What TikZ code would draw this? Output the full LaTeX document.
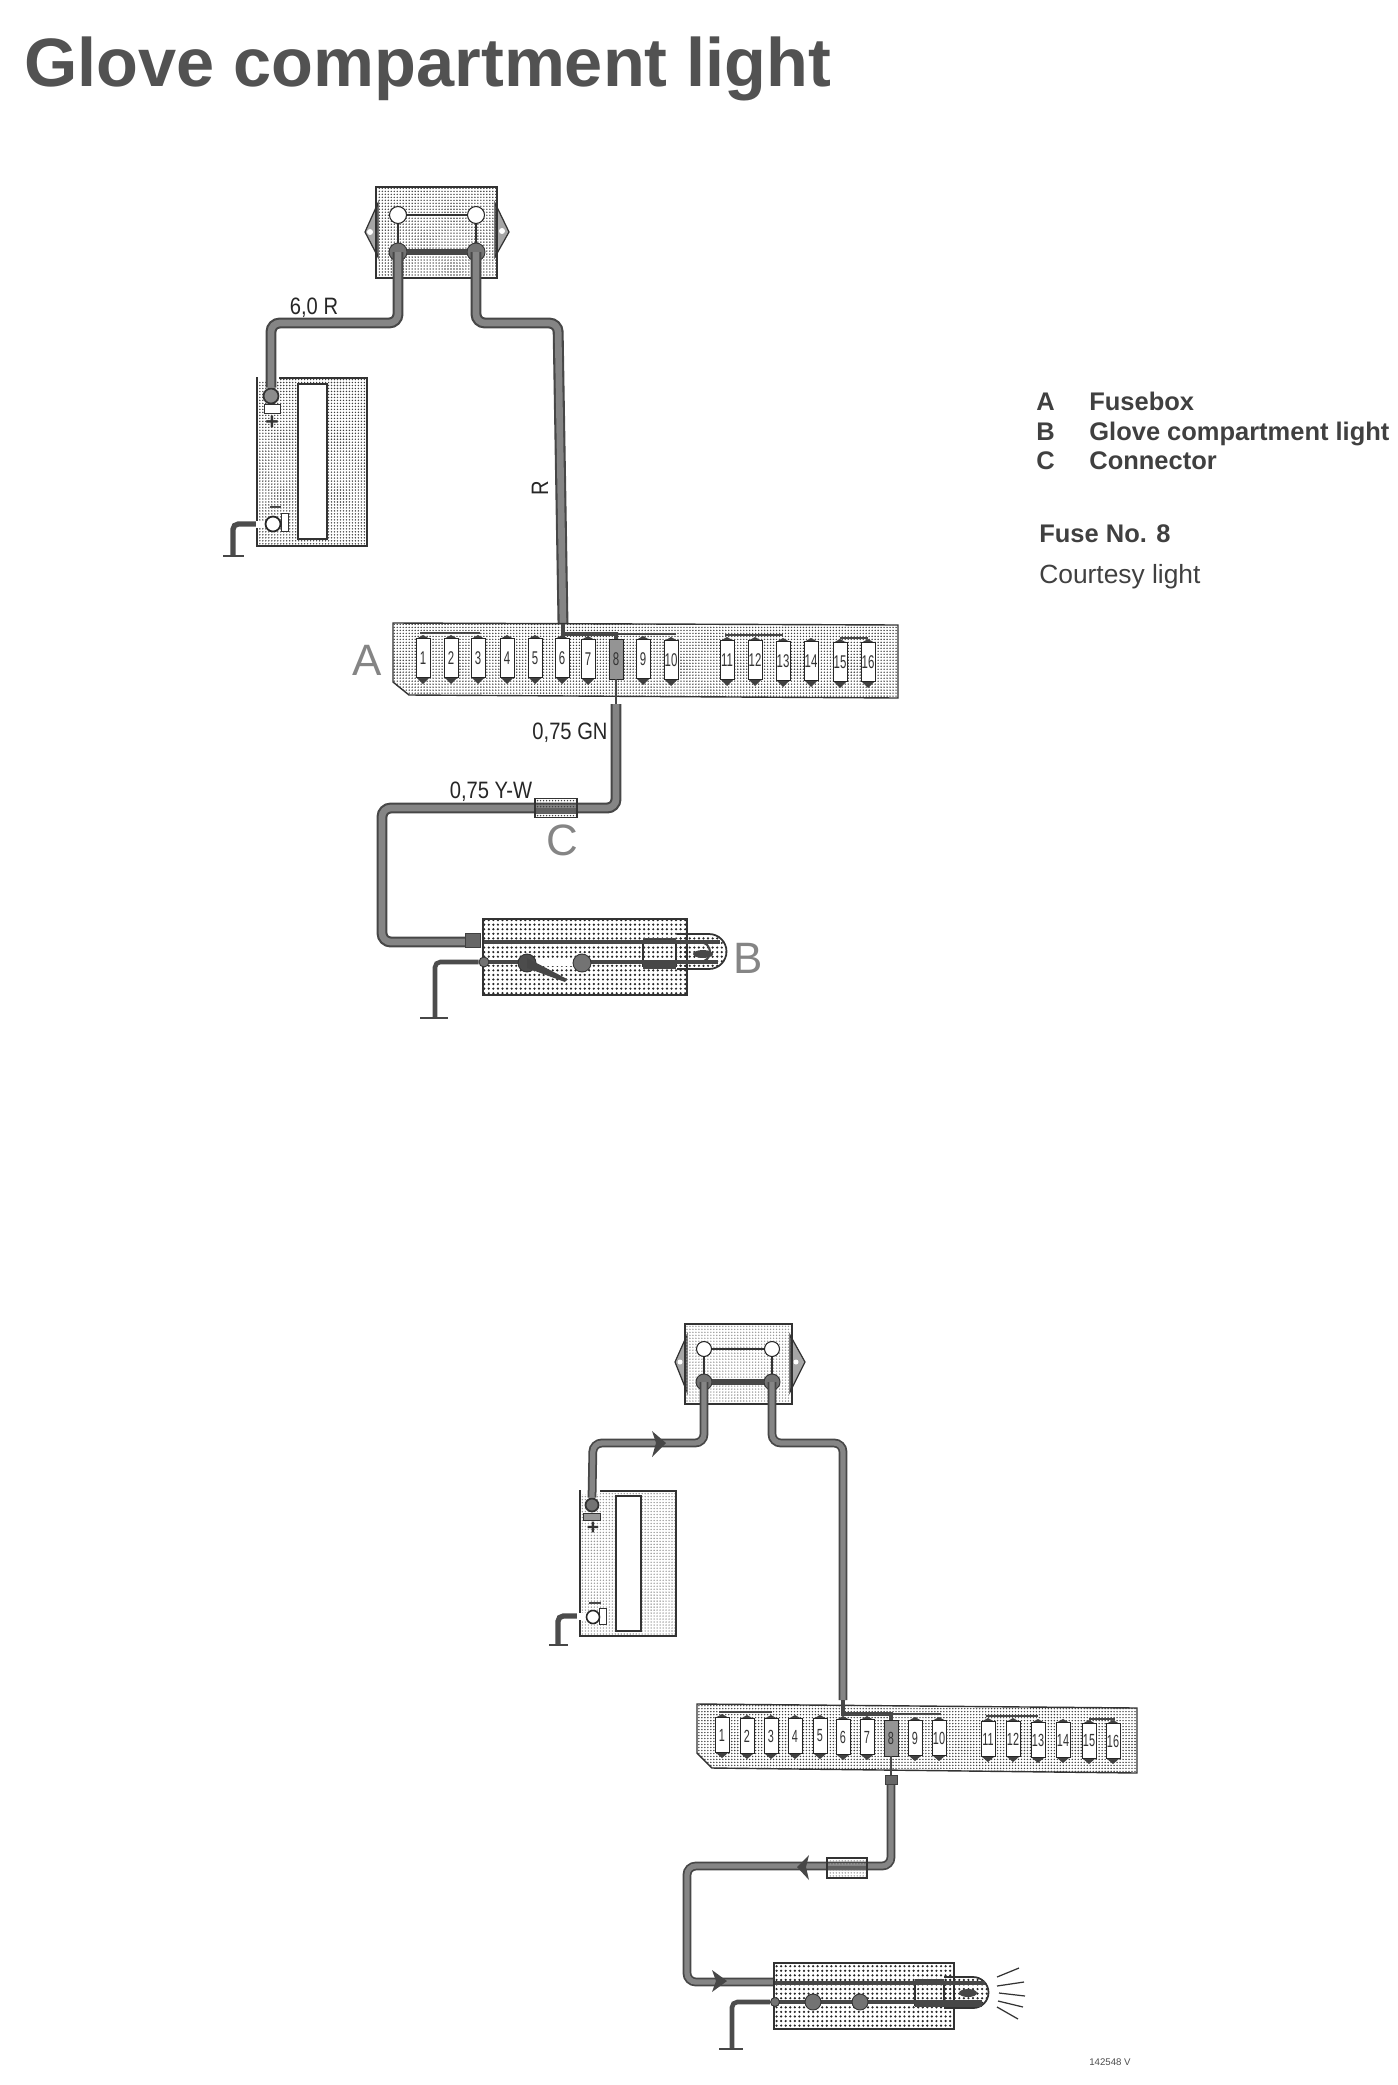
\documentclass[tikz,border=0pt]{standalone}
\usepackage{fontspec}
\setmainfont{Liberation Sans}
\newfontfamily\dinfont[FakeStretch=0.85]{Liberation Sans}
\newfontfamily\fusefont[FakeStretch=0.62]{Liberation Sans}
\usetikzlibrary{patterns.meta}

\tikzset{
 panel/.style={draw=black!80,line width=.8pt,inner sep=0pt,pattern={Dots[distance=1.7pt,radius=.45pt]},pattern color=black!75},
 palepanel/.style={panel,pattern color=black!40},
 lampbox/.style={panel,pattern={Dots[distance=2.6pt,radius=.7pt]},pattern color=black!85},
 window/.style={draw=black!80,line width=.8pt,fill=white,inner sep=0pt},
 fuse/.style={draw=black!85,line width=.5pt,fill=white,inner sep=0pt,minimum width=.28cm,text=black!80},
 lug/.style={circle,draw=black!85,line width=.6pt,fill=white,inner sep=0pt,minimum size=.34cm},
 stud/.style={circle,draw=black!80,line width=.5pt,fill=black!55,inner sep=0pt,minimum size=.36cm},
 wire/.style={draw=black!72,double=black!48,line width=1.2pt,double distance=3.8pt,rounded corners=5pt},
 thinwire/.style={wire,line width=1pt,double distance=3pt},
 lead/.style={draw=black!72,line width=1.6pt},
 hair/.style={draw=black!80,line width=.7pt},
 earth/.style={draw=black!70,line width=3pt,rounded corners=3pt},
 partletter/.style={font=\fontsize{25}{25}\selectfont,text=black!48},
 wirelabel/.style={font=\dinfont\fontsize{13.5}{13.5}\selectfont,text=black!85},
 legend/.style={anchor=base west,inner sep=0pt,text=black!75,font=\bfseries\fontsize{14.5}{14.5}\selectfont},
}

\begin{document}
\begin{tikzpicture}[x=.02cm, y=-.02cm]
\useasboundingbox (0,0) rectangle (1397,2085);

\node[anchor=base west,inner sep=0pt,text=black!68,font=\bfseries\fontsize{39}{39}\selectfont] (title) at (24,87) {Glove compartment light};

\node[legend] (keyA) at (1036,410) {A};
\node[legend] (keyB) at (1036,440) {B};
\node[legend] (keyC) at (1036,469) {C};
\node[legend] (nameA) at (1089,410) {Fusebox};
\node[legend] (nameB) at (1089,440) {Glove compartment light};
\node[legend] (nameC) at (1089,469) {Connector};
\node[legend] (fuseno) at (1039,542) {Fuse No. 8};
\node[legend,font=\fontsize{15}{15}\selectfont] (courtesy) at (1039,583) {Courtesy light};

% upper circuit
\draw[hair,fill=black!35] (378,203)--(365,232)--(378,257)--cycle;
\draw[hair,fill=black!35] (495,203)--(509,232)--(495,257)--cycle;
\fill[white] (370,232) circle (3) (502,231) circle (3);
\node[panel,minimum width=2.42cm,minimum height=1.82cm] (relay) at (436.5,232.5) {};
\node[lug] (relayTL) at (398,215) {};
\node[lug] (relayTR) at (476,215) {};
\node[stud] (relayBL) at (398,252) {};
\node[stud] (relayBR) at (476,252) {};
\draw[hair] (relayTL)--(relayTR);
\draw[hair] (relayTL)--(relayBL);
\draw[hair] (relayTR)--(relayBR);
\draw[lead,line width=3.4pt] (relayBL)--(relayBR);

\node[panel,minimum width=2.2cm,minimum height=3.36cm] (battery) at (312,462) {};
\node[window,minimum width=.58cm,minimum height=3.1cm] (cell) at (312.5,461.5) {};
\fill[white] (258,376) rectangle (279,381);
\node[draw=black!80,fill=white,inner sep=0pt,minimum width=.32cm,minimum height=.18cm] (posnut) at (272,409) {};
\node[circle,draw=black!80,line width=1pt,fill=black!45,inner sep=0pt,minimum size=.3cm] (posring) at (271,396) {};
\node[font=\bfseries\fontsize{13}{13}\selectfont,text=black!80] (plus) at (272,423) {+};
\draw[lead] (270,507)--(281,507);
\draw[earth] (257,524) -| (233,556);
\draw[lead] (223,556)--(244,556);
\draw[fill=white,draw=white] (256,521) rectangle (268,527);
\node[draw=black!80,fill=white,inner sep=0pt,minimum width=.14cm,minimum height=.36cm] (negnut) at (285,522) {};
\node[circle,draw=black!85,line width=1pt,fill=white,inner sep=0pt,minimum size=.3cm] (negring) at (273,524) {};

\coordinate (benda) at (271,323);
\coordinate (bendb) at (558,323);
\draw[wire] (relayBL.center) |- (benda) -- (posring.north);
\draw[wire] (relayBR.center) |- (bendb) -- (563,624);

\node[wirelabel] (labelsix) at (314,308) {6,0 R};
\node[wirelabel,rotate=90] (labelr) at (540,488) {R};

\draw[panel] (393,623)--(898,625)--(898,698)--(409,695)--(393,682)--cycle;
\foreach \n/\x/\y in {1/423/658,2/451/658,3/478/658,4/507/658,5/535/658,6/562/658,7/588/659,9/643/659,10/671/660,11/727/660,12/755/660,13/783/661,14/811/661,15/840/662,16/868/662} {
 \fill[black!75] (\x-7,\y+19)--(\x+7,\y+19)--(\x,\y+26)--cycle;
 \fill[black!75] (\x-7,\y-19)--(\x+7,\y-19)--(\x,\y-23)--cycle;
 \node[fuse,minimum height=.78cm,font=\fusefont\fontsize{10.5}{10.5}\selectfont] (f\n) at (\x,\y) {\n};
};
\node[fuse,minimum height=.8cm,fill=black!42,font=\fusefont\fontsize{10.5}{10.5}\selectfont] (f8) at (616,659) {8};
\draw[lead] (f1.north)++(-3,-5) -- ++(60,0);
\draw[lead,line width=1.3pt] (f15.north)++(0,-4) -- ++(28,0);
\draw[lead,line width=1.3pt] (f11.north)++(-2,-5) -- ++(58,0);
\draw[lead,line width=1.3pt] (f7.north)++(0,-5) -- ++(88,0);
\draw[lead,line width=2.6pt] (563,624)--(563,634)--(616,634)--(f8.north);
\draw[lead] (f8.south)--(616,704);
\node[partletter] (partA) at (367,660) {A};

\coordinate (bendd) at (382,808);
\coordinate (bende) at (382,942);
\draw[wire] (616,704) |- (bendd) -- (bende) -- (480,942);
\draw[draw=black!75,fill=black!60] (465,933) rectangle (480,947);
\node[panel,minimum width=.84cm,minimum height=.38cm] (conn) at (556,808) {};
\draw[line width=3pt,draw=black!62] (536,811)--(576,811);
\node[partletter] (partC) at (562,840) {C};
\node[wirelabel] (labelgn) at (570,733) {0,75 GN};
\node[wirelabel] (labelyw) at (491,792) {0,75 Y-W};

\node[lampbox,minimum width=4.08cm,minimum height=1.52cm] (lamp) at (585,957) {};
\draw[draw=black!80,line width=1pt,fill=white,pattern={Dots[distance=2.6pt,radius=.7pt]},pattern color=black!85] (677,934)--(709,934) arc (-90:90:17.5)--(677,969);
\draw[hair] (643,942) rectangle (676,966);
\draw[lead,line width=2pt] (484,942)--(720,942);
\draw[lead,line width=2pt] (484,962)--(718,962);
\draw[lead,line width=3pt] (643,941)--(676,941);
\draw[lead,line width=3pt] (643,966)--(676,966);
\draw[draw=black!72,line width=1.2pt] (700,942) arc (-90:90:10);
\fill[black!72] (703,954) ellipse (10 and 4);
\fill[white] (529,959) rectangle (578,966);
\node[stud,minimum size=.2cm] (groundpt) at (484,962) {};
\node[stud,minimum size=.36cm,fill=black!70] (pivot) at (527,963) {};
\node[stud,minimum size=.36cm] (contact) at (582,963) {};
\fill[black!72] (527,958)--(567,979)--(565,982)--(527,968)--cycle;
\draw[earth,line width=2.6pt] (groundpt) -| (435,1018);
\draw[lead] (420,1018)--(448,1018);
\node[partletter] (partB) at (748,958) {B};

% lower circuit
\draw[hair,fill=black!35] (687,1335)--(675,1362)--(687,1392)--cycle;
\draw[hair,fill=black!35] (790,1335)--(805,1362)--(790,1392)--cycle;
\fill[white] (680,1362) circle (2.5) (796,1362) circle (2.5);
\node[palepanel,minimum width=2.14cm,minimum height=1.6cm] (relaytwo) at (738.5,1364) {};
\node[lug,minimum size=.3cm] (relayTLtwo) at (704,1349) {};
\node[lug,minimum size=.3cm] (relayTRtwo) at (772,1349) {};
\node[stud,minimum size=.32cm] (relayBLtwo) at (704,1382) {};
\node[stud,minimum size=.32cm] (relayBRtwo) at (772,1382) {};
\draw[hair] (relayTLtwo)--(relayTRtwo);
\draw[hair] (relayTLtwo)--(relayBLtwo);
\draw[hair] (relayTRtwo)--(relayBRtwo);
\draw[lead,line width=3pt] (relayBLtwo)--(relayBRtwo);

\node[palepanel,minimum width=1.92cm,minimum height=2.9cm] (batterytwo) at (628,1563.5) {};
\node[window,minimum width=.5cm,minimum height=2.7cm] (celltwo) at (628.5,1563.5) {};
\fill[white] (581,1489) rectangle (600,1494);
\node[draw=black!80,fill=black!40,inner sep=0pt,minimum width=.34cm,minimum height=.14cm] (posnuttwo) at (592,1517) {};
\node[circle,draw=black!80,line width=1pt,fill=black!55,inner sep=0pt,minimum size=.26cm] (posringtwo) at (592,1505) {};
\node[font=\bfseries\fontsize{12}{12}\selectfont,text=black!80] (plustwo) at (593,1528) {+};
\draw[lead] (589,1603)--(601,1603);
\draw[earth] (577,1616) -| (558,1645);
\draw[lead] (549,1645)--(568,1645);
\draw[fill=white,draw=white] (577,1613) rectangle (588,1619);
\node[draw=black!80,fill=white,inner sep=0pt,minimum width=.14cm,minimum height=.32cm] (negnuttwo) at (603,1616) {};
\node[circle,draw=black!85,line width=.9pt,fill=white,inner sep=0pt,minimum size=.26cm] (negringtwo) at (593,1617) {};

\coordinate (bendatwo) at (593,1443);
\coordinate (bendbtwo) at (843,1443);
\draw[thinwire] (relayBLtwo.center) |- (bendatwo) -- (posringtwo.north);
\draw[thinwire] (relayBRtwo.center) |- (bendbtwo) -- (843,1700);
\fill[black!72] (652,1431)--(666,1443)--(652,1457)--(656,1443)--cycle;

\draw[panel] (697,1704)--(1137,1708)--(1137,1773)--(712,1768)--(697,1753)--cycle;
\foreach \n/\x/\y in {1/722/1735,2/747/1736,3/771/1736,4/795/1736,5/820/1736,6/843/1737,7/867/1737,9/915/1738,10/939/1738,11/988/1739,12/1013/1739,13/1038/1740,14/1063/1740,15/1089/1741,16/1113/1741} {
 \fill[black!75] (\x-7,\y+17)--(\x+7,\y+17)--(\x,\y+23)--cycle;
 \fill[black!75] (\x-7,\y-17)--(\x+7,\y-17)--(\x,\y-21)--cycle;
 \node[fuse,minimum height=.7cm,font=\fusefont\fontsize{10}{10}\selectfont] (g\n) at (\x,\y) {\n};
};
\node[fuse,minimum height=.72cm,fill=black!42,font=\fusefont\fontsize{10}{10}\selectfont] (g8) at (891,1738) {8};
\draw[lead] (g1.north)++(-3,-5) -- ++(53,0);
\draw[lead,line width=1.3pt] (g15.north)++(0,-4) -- ++(26,0);
\draw[lead,line width=1.3pt] (g11.north)++(-2,-5) -- ++(52,0);
\draw[lead,line width=1.3pt] (g7.north)++(0,-5) -- ++(74,0);
\draw[lead,line width=2.6pt] (843,1700)--(843,1714)--(891,1714)--(g8.north);
\draw[lead] (g8.south)--(891,1778);

\coordinate (benddtwo) at (687,1866);
\coordinate (bendetwo) at (687,1982);
\draw[thinwire] (891,1778) |- (benddtwo) -- (bendetwo) -- (773,1982);
\draw[draw=black!75,fill=black!60] (885,1775) rectangle (897,1784);
\fill[black!72] (809,1855)--(797,1867)--(809,1880)--(806,1867)--cycle;
\fill[black!72] (712,1970)--(727,1981)--(712,1992)--(716,1981)--cycle;
\node[palepanel,minimum width=.8cm,minimum height=.4cm] (conntwo) at (847,1868) {};
\draw[line width=2.4pt,draw=black!62] (828,1868)--(866,1868);

\node[lampbox,minimum width=3.6cm,minimum height=1.32cm] (lamptwo) at (864,1996) {};
\draw[draw=black!80,line width=1pt,fill=white,pattern={Dots[distance=2.6pt,radius=.7pt]},pattern color=black!85] (944,1977)--(973,1977) arc (-90:90:15.5)--(944,2008);
\draw[hair] (915,1983) rectangle (944,2005);
\draw[lead,line width=2pt] (775,1983)--(985,1983);
\draw[lead,line width=2pt] (775,2002)--(982,2002);
\draw[lead,line width=3pt] (915,1982)--(944,1982);
\draw[lead,line width=3pt] (915,2004)--(982,2004);
\fill[black!72] (968,1993) ellipse (9 and 4);
\node[stud,minimum size=.18cm] (groundpttwo) at (775,2002) {};
\node[stud,minimum size=.32cm] (pivottwo) at (813,2002) {};
\node[stud,minimum size=.32cm] (contacttwo) at (860,2002) {};
\draw[earth,line width=2.6pt] (groundpttwo) -| (732,2049);
\draw[lead] (719,2049)--(743,2049);

\foreach \xa/\ya/\xb/\yb in {997/1977/1019/1968,997/1986/1024/1982,999/1993/1025/1996,998/2001/1023/2007,997/2007/1018/2019} {
 \draw[hair] (\xa,\ya)--(\xb,\yb);
};
\node[font=\fontsize{5.5}{5.5}\selectfont,text=black!70] (code) at (1110,2062) {142548 V};

\end{tikzpicture}
\end{document}
